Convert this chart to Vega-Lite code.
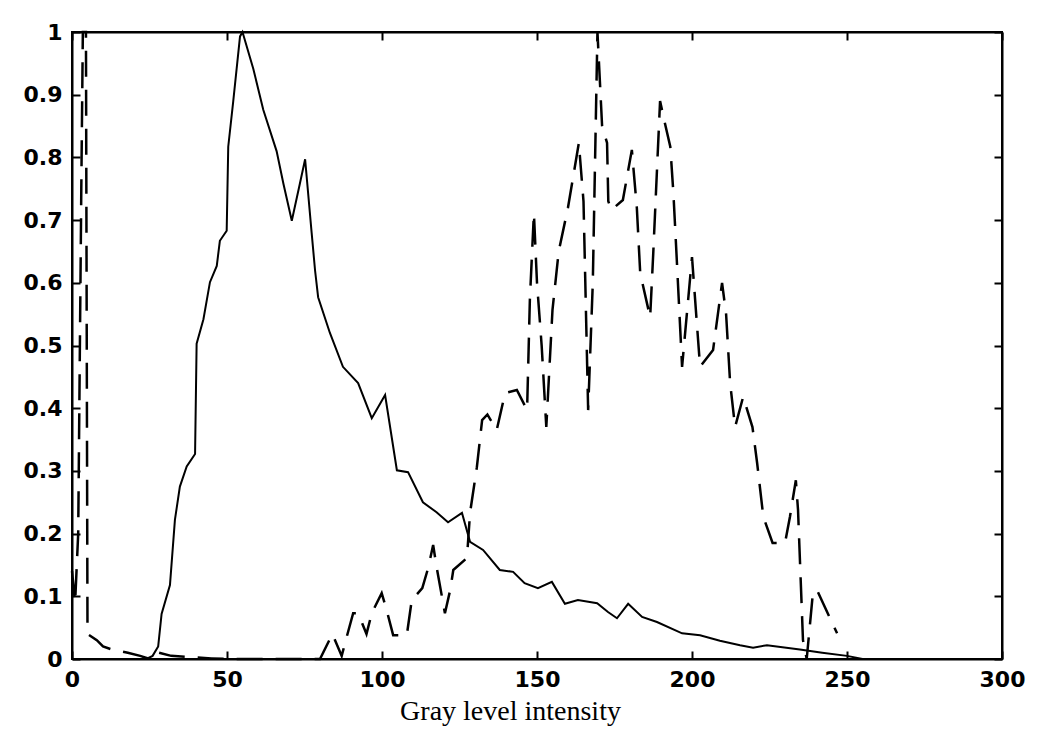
{
  "$schema": "https://vega.github.io/schema/vega-lite/v6.json",
  "width": 930,
  "height": 627,
  "autosize": "none",
  "padding": {"left": 72, "top": 32, "right": 48, "bottom": 96},
  "background": "white",
  "config": {
    "view": {"stroke": "black", "strokeWidth": 2},
    "axis": {
      "grid": false,
      "domainColor": "black",
      "domainWidth": 2,
      "tickColor": "black",
      "tickWidth": 2,
      "tickSize": -8,
      "labelPadding": 18,
      "labelFlush": false,
      "labelFont": "DejaVu Sans",
      "labelFontWeight": "bold",
      "labelFontSize": 22,
      "labelColor": "black",
      "titleFont": "Liberation Serif",
      "titleFontWeight": "normal",
      "titleFontSize": 28,
      "titleColor": "black"
    }
  },
  "datasets": {
    "solid": [
      {"x": 24, "y": 0}, {"x": 26, "y": 0.005}, {"x": 27.8, "y": 0.02}, {"x": 28.9, "y": 0.072},
      {"x": 31.6, "y": 0.118}, {"x": 33.2, "y": 0.222}, {"x": 34.8, "y": 0.275}, {"x": 37, "y": 0.307},
      {"x": 39.7, "y": 0.327}, {"x": 40.2, "y": 0.503}, {"x": 42.4, "y": 0.542}, {"x": 44.5, "y": 0.601},
      {"x": 46.7, "y": 0.627}, {"x": 47.7, "y": 0.667}, {"x": 49.9, "y": 0.683}, {"x": 50.4, "y": 0.817},
      {"x": 52, "y": 0.889}, {"x": 54.2, "y": 0.993}, {"x": 55, "y": 1.0}, {"x": 58.5, "y": 0.941},
      {"x": 61.7, "y": 0.876}, {"x": 66, "y": 0.81}, {"x": 68.2, "y": 0.758}, {"x": 70.9, "y": 0.699},
      {"x": 73.5, "y": 0.758}, {"x": 75.2, "y": 0.797}, {"x": 77.3, "y": 0.68}, {"x": 78.4, "y": 0.62},
      {"x": 79.4, "y": 0.577}, {"x": 83.2, "y": 0.52}, {"x": 87.4, "y": 0.466}, {"x": 92.3, "y": 0.44},
      {"x": 96.7, "y": 0.384}, {"x": 101, "y": 0.421}, {"x": 104.8, "y": 0.301}, {"x": 108.4, "y": 0.298},
      {"x": 113.2, "y": 0.25}, {"x": 117.6, "y": 0.234}, {"x": 121.3, "y": 0.218}, {"x": 125.8, "y": 0.233},
      {"x": 128.4, "y": 0.187}, {"x": 132.6, "y": 0.174}, {"x": 138, "y": 0.142}, {"x": 142.3, "y": 0.139},
      {"x": 146, "y": 0.121}, {"x": 150.3, "y": 0.113}, {"x": 154.8, "y": 0.123}, {"x": 159, "y": 0.088},
      {"x": 163.2, "y": 0.094}, {"x": 169.4, "y": 0.089}, {"x": 172.9, "y": 0.075}, {"x": 175.8, "y": 0.065},
      {"x": 179.4, "y": 0.088}, {"x": 183.9, "y": 0.067}, {"x": 188.7, "y": 0.059}, {"x": 196.8, "y": 0.041},
      {"x": 202.6, "y": 0.038}, {"x": 209, "y": 0.029}, {"x": 215.5, "y": 0.022}, {"x": 219.7, "y": 0.018},
      {"x": 224.2, "y": 0.022}, {"x": 234.8, "y": 0.015}, {"x": 242, "y": 0.01}, {"x": 250, "y": 0.005},
      {"x": 255, "y": 0.0}
    ],
    "dashed": [
      {"x": 0, "y": 0.14}, {"x": 1, "y": 0.09}, {"x": 2, "y": 0.2}, {"x": 3, "y": 0.75},
      {"x": 3.5, "y": 1.0}, {"x": 4.5, "y": 1.0}, {"x": 5, "y": 0.04}, {"x": 8, "y": 0.03},
      {"x": 10, "y": 0.02}, {"x": 13, "y": 0.015}, {"x": 18, "y": 0.01}, {"x": 22, "y": 0.005},
      {"x": 25, "y": 0.0}, {"x": 28, "y": 0.01}, {"x": 32, "y": 0.005}, {"x": 38, "y": 0.003},
      {"x": 45, "y": 0.001}, {"x": 50, "y": 0}, {"x": 80, "y": 0}, {"x": 84, "y": 0.04},
      {"x": 87, "y": 0.005}, {"x": 88.6, "y": 0.035}, {"x": 90.7, "y": 0.073}, {"x": 92.3, "y": 0.073},
      {"x": 95, "y": 0.04}, {"x": 96.7, "y": 0.073}, {"x": 99.9, "y": 0.105}, {"x": 101.5, "y": 0.078},
      {"x": 103.6, "y": 0.038}, {"x": 108, "y": 0.038}, {"x": 109.6, "y": 0.094}, {"x": 113, "y": 0.113},
      {"x": 115, "y": 0.147}, {"x": 116.5, "y": 0.182}, {"x": 117.6, "y": 0.147}, {"x": 120.3, "y": 0.073},
      {"x": 122, "y": 0.11}, {"x": 123, "y": 0.142}, {"x": 127.4, "y": 0.161}, {"x": 128.4, "y": 0.233},
      {"x": 130.6, "y": 0.306}, {"x": 132.3, "y": 0.381}, {"x": 134, "y": 0.39}, {"x": 137, "y": 0.365},
      {"x": 139.7, "y": 0.424}, {"x": 143.5, "y": 0.429}, {"x": 146.8, "y": 0.397}, {"x": 147.7, "y": 0.573},
      {"x": 149, "y": 0.711}, {"x": 150, "y": 0.6}, {"x": 151.5, "y": 0.5}, {"x": 153, "y": 0.37},
      {"x": 155, "y": 0.557}, {"x": 157, "y": 0.65}, {"x": 160, "y": 0.72}, {"x": 163.5, "y": 0.823},
      {"x": 165, "y": 0.73}, {"x": 166.5, "y": 0.397}, {"x": 168, "y": 0.6}, {"x": 169.5, "y": 1.0},
      {"x": 171, "y": 0.85}, {"x": 172.6, "y": 0.823}, {"x": 173, "y": 0.73}, {"x": 174, "y": 0.716},
      {"x": 177.7, "y": 0.732}, {"x": 180.6, "y": 0.812}, {"x": 182.2, "y": 0.72}, {"x": 183.3, "y": 0.615},
      {"x": 186.5, "y": 0.545}, {"x": 187.5, "y": 0.647}, {"x": 189.7, "y": 0.89}, {"x": 191, "y": 0.86},
      {"x": 193, "y": 0.817}, {"x": 194, "y": 0.743}, {"x": 195.1, "y": 0.636}, {"x": 196.8, "y": 0.466},
      {"x": 200, "y": 0.641}, {"x": 202.6, "y": 0.466}, {"x": 206.8, "y": 0.493}, {"x": 209.7, "y": 0.6},
      {"x": 211, "y": 0.55}, {"x": 212.3, "y": 0.44}, {"x": 213.9, "y": 0.37}, {"x": 216.5, "y": 0.418},
      {"x": 219.5, "y": 0.37}, {"x": 221, "y": 0.313}, {"x": 223, "y": 0.227}, {"x": 226, "y": 0.185},
      {"x": 230, "y": 0.185}, {"x": 231.6, "y": 0.227}, {"x": 233.5, "y": 0.285}, {"x": 234.2, "y": 0.238},
      {"x": 235.8, "y": 0.03}, {"x": 237, "y": 0.0}, {"x": 239, "y": 0.105}, {"x": 240.3, "y": 0.11},
      {"x": 246.8, "y": 0.041}
    ]
  },
  "layer": [
    {
      "data": {"name": "solid"},
      "mark": {"type": "line", "color": "black", "strokeWidth": 2},
      "encoding": {
        "x": {
          "field": "x", "type": "quantitative",
          "scale": {"domain": [0, 300], "nice": false, "zero": false},
          "axis": {"orient": "bottom", "values": [0, 50, 100, 150, 200, 250, 300], "format": "d", "title": "Gray level intensity", "titlePadding": 7, "titleX": 438}
        },
        "y": {
          "field": "y", "type": "quantitative",
          "scale": {"domain": [0, 1], "nice": false},
          "axis": {"orient": "left", "values": [0, 0.1, 0.2, 0.3, 0.4, 0.5, 0.6, 0.7, 0.8, 0.9, 1], "format": "~f", "title": null}
        }
      }
    },
    {
      "data": {"name": "dashed"},
      "mark": {"type": "line", "color": "black", "strokeWidth": 2.5, "strokeDash": [26, 13]},
      "encoding": {
        "x": {
          "field": "x", "type": "quantitative",
          "scale": {"domain": [0, 300], "nice": false, "zero": false},
          "axis": {"orient": "top", "values": [0, 50, 100, 150, 200, 250, 300], "labels": false, "title": null}
        },
        "y": {
          "field": "y", "type": "quantitative",
          "scale": {"domain": [0, 1], "nice": false},
          "axis": {"orient": "right", "values": [0, 0.1, 0.2, 0.3, 0.4, 0.5, 0.6, 0.7, 0.8, 0.9, 1], "labels": false, "title": null}
        }
      }
    }
  ],
  "resolve": {"axis": {"x": "independent", "y": "independent"}}
}
